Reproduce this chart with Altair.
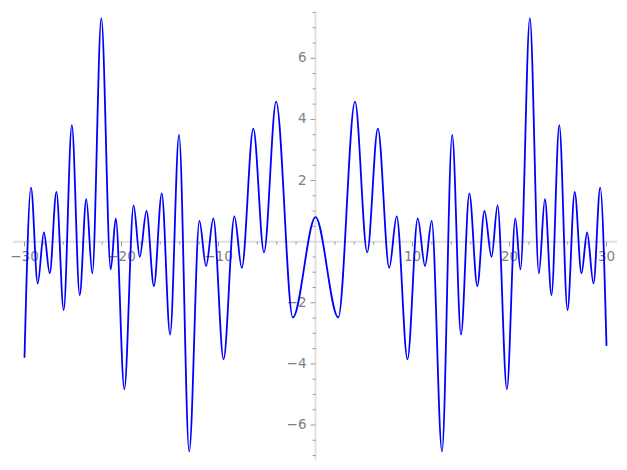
import altair as alt
import pandas as pd

# Curve: turning points (x, y), left to right
curve_x = [-30.0, -29.33, -28.64, -28.0, -27.40, -26.71, -25.96, -25.12, -24.31, -23.63,
           -23.01, -22.08, -21.11, -20.59, -19.71, -18.75, -18.12, -17.42, -16.66, -15.85,
           -14.99, -14.07, -13.02, -11.97, -11.28, -10.53, -9.48, -8.36, -7.60, -6.41,
           -5.31, -4.06, -2.34, 0.0,
           2.35, 4.07, 5.33, 6.43, 7.60, 8.37, 9.48, 10.54, 11.29, 11.98,
           13.04, 14.09, 15.00, 15.86, 16.68, 17.42, 18.15, 18.77, 19.73, 20.60,
           21.13, 22.10, 23.03, 23.65, 24.33, 25.13, 25.98, 26.72, 27.42, 28.0,
           28.66, 29.35, 30.0]
curve_y = [-3.80, 1.77, -1.37, 0.30, -1.04, 1.63, -2.24, 3.81, -1.75, 1.39,
           -1.04, 7.31, -0.91, 0.76, -4.83, 1.19, -0.50, 1.01, -1.46, 1.58,
           -3.04, 3.49, -6.86, 0.68, -0.80, 0.76, -3.85, 0.83, -0.86, 3.70,
           -0.35, 4.58, -2.48, 0.80,
           -2.48, 4.58, -0.35, 3.70, -0.86, 0.83, -3.85, 0.76, -0.80, 0.68,
           -6.86, 3.49, -3.04, 1.58, -1.46, 1.01, -0.50, 1.19, -4.83, 0.76,
           -0.91, 7.31, -1.04, 1.39, -1.75, 3.81, -2.24, 1.63, -1.04, 0.30,
           -1.37, 1.77, -3.41]

# Axes
x_major = [-30, -20, -10, 10, 20, 30]
x_major_labels = ["\u221230", "\u221220", "\u221210", "10", "20", "30"]
x_minor = [-28, -26, -24, -22, -18, -16, -14, -12, -8, -6, -4, -2,
           2, 4, 6, 8, 12, 14, 16, 18, 22, 24, 26, 28]
y_major = [-6, -4, -2, 2, 4, 6]
y_major_labels = ["\u22126", "\u22124", "\u22122", "2", "4", "6"]
y_minor = [-7.0, -6.5, -5.5, -5.0, -4.5, -3.5, -3.0, -2.5, -1.5, -1.0, -0.5,
           0.5, 1.0, 1.5, 2.5, 3.0, 3.5, 4.5, 5.0, 5.5, 6.5, 7.0, 7.5]
x_axis_extent = [-31.2, 31.1]
y_axis_extent = [-7.13, 7.52]

xs = alt.Scale(domain=[-30, 30], range=[16.5, 598.5])
ys = alt.Scale(domain=[-6, 6], range=[417, 50.3])

AXIS_LINE = "#e0e0e0"
TICK = "#999999"
LABEL = "#7f7f7f"
FONT = "DejaVu Sans"


def X(f):
    return alt.X(f, type="quantitative", scale=xs, axis=None)


def Y(f):
    return alt.Y(f, type="quantitative", scale=ys, axis=None)


xaxis = alt.Chart(pd.DataFrame({"x": [x_axis_extent[0]], "x2": [x_axis_extent[1]], "y": [0]})).mark_rule(
    color=AXIS_LINE, strokeWidth=2).encode(x=X("x"), x2="x2", y=Y("y"))
yaxis = alt.Chart(pd.DataFrame({"y": [y_axis_extent[0]], "y2": [y_axis_extent[1]], "x": [0]})).mark_rule(
    color=AXIS_LINE, strokeWidth=2).encode(x=X("x"), y=Y("y"), y2="y2")

xmaj_df = pd.DataFrame({"x": x_major, "y": 0, "label": x_major_labels})
xmin_df = pd.DataFrame({"x": x_minor, "y": 0})
ymaj_df = pd.DataFrame({"y": y_major, "x": 0, "label": y_major_labels})
ymin_df = pd.DataFrame({"y": y_minor, "x": 0})

xmaj_ticks = alt.Chart(xmaj_df).mark_rule(color=TICK, strokeWidth=1, y2Offset=5).encode(
    x=X("x"), y=Y("y"), y2="y")
xmin_ticks = alt.Chart(xmin_df).mark_rule(color=TICK, strokeWidth=1, y2Offset=3).encode(
    x=X("x"), y=Y("y"), y2="y")
ymaj_ticks = alt.Chart(ymaj_df).mark_rule(color=TICK, strokeWidth=1, x2Offset=-5).encode(
    y=Y("y"), x=X("x"), x2="x")
ymin_ticks = alt.Chart(ymin_df).mark_rule(color=TICK, strokeWidth=1, x2Offset=-3).encode(
    y=Y("y"), x=X("x"), x2="x")

xlabels = alt.Chart(xmaj_df).mark_text(
    font=FONT, fontSize=13.5, color=LABEL, align="center", baseline="top", dy=8).encode(
    x=X("x"), y=Y("y"), text="label:N")
ylabels = alt.Chart(ymaj_df).mark_text(
    font=FONT, fontSize=13.5, color=LABEL, align="right", baseline="middle", dx=-9).encode(
    x=X("x"), y=Y("y"), text="label:N")

curve = alt.Chart(pd.DataFrame({"x": curve_x, "y": curve_y})).mark_line(
    color="#0000ff", strokeWidth=1.8, interpolate="monotone").encode(x=X("x"), y=Y("y"))

chart = alt.layer(xaxis, yaxis, xmin_ticks, xmaj_ticks, ymin_ticks, ymaj_ticks,
                  xlabels, ylabels, curve).properties(
    width=611, height=454, padding=0, autosize="none"
).configure_view(stroke=None)

chart.save("out.html", embed_options={"renderer": "svg", "actions": False})
